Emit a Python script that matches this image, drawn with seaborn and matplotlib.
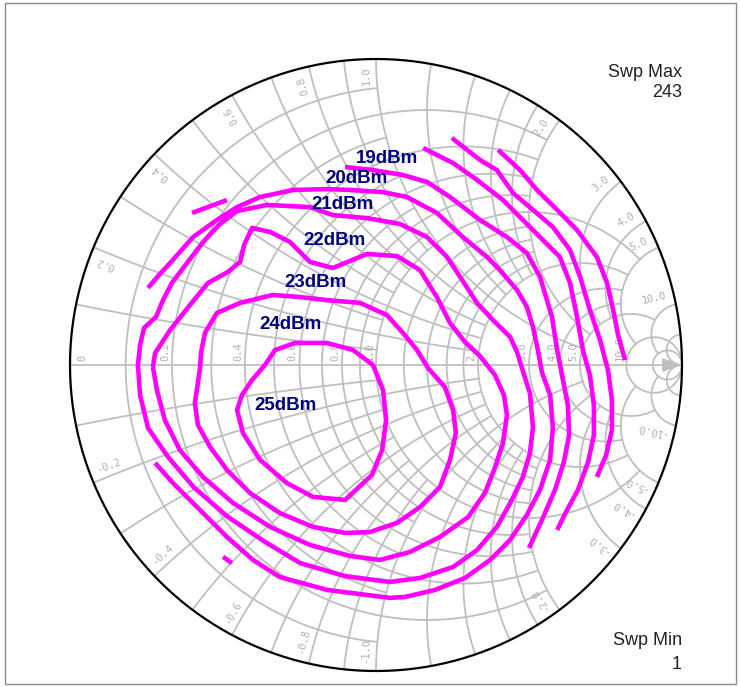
import numpy as np
import pandas as pd
import matplotlib
matplotlib.use("Agg")
import matplotlib.pyplot as plt
from matplotlib.patches import Rectangle
import seaborn as sns

# --- load-pull contours, reflection coefficient (re, im) ---
c25_re = [-0.363, -0.330, -0.265, -0.160, -0.075, -0.010, 0.023, 0.033, 0.020, -0.013,
          -0.101, -0.206, -0.291, -0.379, -0.435, -0.454, -0.438, -0.405]
c25_im = [0.000, 0.049, 0.072, 0.072, 0.049, 0.000, -0.082, -0.180, -0.278, -0.359,
          -0.441, -0.431, -0.386, -0.310, -0.222, -0.147, -0.098, -0.049]

c24_re = [-0.575, -0.572, -0.559, -0.520, -0.444, -0.337, -0.248, -0.160, -0.052, 0.036,
          0.088, 0.134, 0.170, 0.225, 0.252, 0.261, 0.242, 0.209, 0.144, 0.069,
          -0.020, -0.101, -0.206, -0.314, -0.412, -0.487, -0.542, -0.582, -0.592, -0.582]
c24_im = [-0.010, 0.039, 0.105, 0.170, 0.203, 0.229, 0.222, 0.212, 0.203, 0.163,
          0.105, 0.049, -0.010, -0.072, -0.147, -0.222, -0.310, -0.399, -0.464, -0.516,
          -0.546, -0.549, -0.529, -0.484, -0.418, -0.343, -0.268, -0.196, -0.124, -0.059]

c23_re = [-0.729, -0.722, -0.673, -0.608, -0.549, -0.484, -0.444, -0.431, -0.405, -0.346,
          -0.281, -0.216, -0.141, -0.029, 0.069, 0.144, 0.199, 0.242, 0.291, 0.340,
          0.389, 0.418, 0.428, 0.415, 0.386, 0.356, 0.301, 0.209, 0.111, 0.013,
          -0.085, -0.216, -0.346, -0.467, -0.565, -0.641, -0.690, -0.716]
c23_im = [-0.007, 0.039, 0.114, 0.196, 0.268, 0.304, 0.337, 0.392, 0.448, 0.435,
          0.402, 0.337, 0.317, 0.363, 0.356, 0.310, 0.222, 0.137, 0.075, 0.029,
          -0.033, -0.098, -0.163, -0.255, -0.343, -0.418, -0.497, -0.562, -0.611, -0.637,
          -0.624, -0.588, -0.529, -0.451, -0.366, -0.278, -0.180, -0.082]

c22_re = [-0.778, -0.771, -0.758, -0.719, -0.696, -0.667, -0.618, -0.565, -0.510, -0.454,
          -0.356, -0.216, -0.141, -0.029, 0.078, 0.167, 0.232, 0.275, 0.330, 0.382,
          0.438, 0.461, 0.477, 0.503, 0.513, 0.503, 0.480, 0.444, 0.395, 0.330,
          0.252, 0.144, 0.046, -0.101, -0.248, -0.363, -0.487, -0.595, -0.680, -0.745, -0.771]
c22_im = [0.000, 0.065, 0.121, 0.157, 0.212, 0.268, 0.333, 0.402, 0.461, 0.503,
          0.523, 0.516, 0.490, 0.480, 0.461, 0.418, 0.353, 0.288, 0.203, 0.147,
          0.092, 0.042, -0.010, -0.092, -0.203, -0.288, -0.366, -0.441, -0.529, -0.605,
          -0.660, -0.696, -0.709, -0.690, -0.647, -0.578, -0.494, -0.400, -0.300, -0.206, -0.098]

c21_re = [-0.745, -0.712, -0.673, -0.598, -0.520, -0.454, -0.379, -0.271, -0.160, -0.085,
          0.023, 0.101, 0.199, 0.284, 0.363, 0.405, 0.461, 0.493, 0.513, 0.529,
          0.542, 0.569, 0.578, 0.569, 0.536, 0.493, 0.438, 0.373, 0.291, 0.193,
          0.095, 0.046, -0.160, -0.314, -0.402, -0.487, -0.575, -0.663, -0.722]
c21_im = [0.252, 0.291, 0.333, 0.418, 0.474, 0.516, 0.549, 0.572, 0.575, 0.572,
          0.565, 0.549, 0.497, 0.418, 0.353, 0.310, 0.245, 0.190, 0.124, 0.049,
          -0.023, -0.098, -0.203, -0.310, -0.408, -0.490, -0.572, -0.637, -0.696, -0.735,
          -0.758, -0.761, -0.735, -0.693, -0.637, -0.562, -0.474, -0.386, -0.320]

c20_re = [-0.101, -0.010, 0.088, 0.167, 0.242, 0.340, 0.428, 0.493, 0.536, 0.575,
          0.592, 0.608, 0.627, 0.631, 0.614, 0.585, 0.542, 0.500]
c20_im = [0.647, 0.637, 0.621, 0.598, 0.549, 0.474, 0.418, 0.366, 0.288, 0.157,
          0.049, -0.033, -0.131, -0.229, -0.317, -0.408, -0.507, -0.598]

c19_re = [0.154, 0.252, 0.330, 0.415, 0.480, 0.546, 0.601, 0.634, 0.657, 0.676,
          0.699, 0.712, 0.712, 0.693, 0.660, 0.621, 0.592]
c19_im = [0.709, 0.660, 0.605, 0.539, 0.474, 0.408, 0.353, 0.268, 0.157, 0.049,
          -0.033, -0.131, -0.229, -0.317, -0.408, -0.480, -0.539]

c18_re = [0.248, 0.340, 0.395, 0.448, 0.513, 0.578, 0.634, 0.667, 0.699, 0.732,
          0.758, 0.771, 0.771, 0.752, 0.722]
c18_im = [0.742, 0.670, 0.637, 0.562, 0.507, 0.451, 0.376, 0.288, 0.180, 0.082,
          -0.016, -0.114, -0.212, -0.294, -0.366]

c17_re = [0.399, 0.471, 0.526, 0.592, 0.657, 0.722, 0.755, 0.775, 0.791, 0.814]
c17_im = [0.703, 0.637, 0.572, 0.507, 0.441, 0.353, 0.268, 0.180, 0.098, 0.016]

frag1_re = [-0.601, -0.487]
frag1_im = [0.497, 0.539]
frag2_re = [-0.500, -0.471]
frag2_im = [-0.627, -0.647]

# contour labels and where they sit
label_text = ["19dBm", "20dBm", "21dBm", "22dBm", "23dBm", "24dBm", "25dBm"]
label_re = [0.036, -0.065, -0.111, -0.134, -0.199, -0.281, -0.297]
label_im = [0.676, 0.611, 0.526, 0.408, 0.268, 0.131, -0.131]

# Smith chart grid: resistance circles / reactance arcs and how far each runs
r_circles = [0.1, 0.2, 0.3, 0.4, 0.5, 0.6, 0.7, 0.8, 0.9, 1.0,
             1.2, 1.4, 1.6, 1.8, 2.0, 3.0, 4.0, 5.0, 10.0, 20.0]
r_limits = [1, 2, 1, 2, 1, 2, 1, 2, 1, 5,
            2, 2, 2, 2, 5, 5, 5, 10, np.inf, np.inf]
x_arcs = [0.1, 0.2, 0.3, 0.4, 0.5, 0.6, 0.7, 0.8, 0.9, 1.0,
          1.2, 1.4, 1.6, 1.8, 2.0, 3.0, 4.0, 5.0, 10.0, 20.0]
x_limits = [1, 2, 1, 2, 1, 2, 1, 2, 1, 5,
            2, 2, 2, 2, 5, 5, 5, 10, 20, np.inf]
grid_labels = [0.2, 0.4, 0.6, 0.8, 1.0, 2.0, 3.0, 4.0, 5.0, 10.0]

# pixel geometry of the chart inside the 740x687 image
W, H = 740, 687
CX, CY, RAD = 376, 365, 306
GRID = "#bfbfbf"
TICK = "#b0b0b0"
MAGENTA = "#ff00ff"


def gamma(z):
    return (z - 1) / (z + 1)


def closed(a):
    return list(a) + [a[0]]


sns.set_theme(style="white")
plt.rcParams["font.family"] = ["Liberation Sans", "DejaVu Sans"]

fig = plt.figure(figsize=(W / 100, H / 100), dpi=100)
ax = fig.add_axes([0, 0, 1, 1])

# --- grid ---
for r, xm in zip(r_circles, r_limits):
    if np.isinf(xm):
        t = np.linspace(0, 2 * np.pi, 400)
        g = r / (1 + r) + np.exp(1j * t) / (1 + r)
    else:
        xs = np.tan(np.linspace(-np.arctan(xm), np.arctan(xm), 400))
        g = gamma(r + 1j * xs)
    ax.plot(g.real, g.imag, color=GRID, lw=1.3, zorder=1)

for x, rm in zip(x_arcs, x_limits):
    if np.isinf(rm):
        rs = np.append(np.tan(np.linspace(0, np.pi / 2 * 0.999, 400)), 1e7)
    else:
        rs = np.tan(np.linspace(0, np.arctan(rm), 400))
    for s in (1, -1):
        g = gamma(rs + 1j * s * x)
        ax.plot(g.real, g.imag, color=GRID, lw=1.3, zorder=1)

ax.annotate("", xy=(0.995, 0), xytext=(-1, 0),
            arrowprops=dict(arrowstyle="-|>,head_length=0.9,head_width=0.35",
                            color=GRID, lw=1.3, shrinkA=0, shrinkB=0,
                            mutation_scale=12), zorder=1)

t = np.linspace(0, 2 * np.pi, 600)
ax.plot(np.cos(t), np.sin(t), color="black", lw=1.6, zorder=3)

# --- grid labels ---
for r in [0.0] + grid_labels:
    gx = (r - 1) / (r + 1)
    txt = "0" if r == 0 else f"{r:.1f}"
    ax.text(gx + (0.04 if r == 0 else -0.022), 0.012, txt, rotation=90,
            ha="center", va="bottom", fontsize=7.5, color=TICK,
            family="DejaVu Sans Mono", zorder=2)

for x in grid_labels:
    for s in (1, -1):
        th = np.angle(gamma(1j * s * x)) + s * np.deg2rad(2.0)
        p = 0.975 * np.exp(1j * th)
        rot = np.degrees(th) if s > 0 else np.degrees(th) + 180
        ax.text(p.real, p.imag, f"{s * x:.1f}", rotation=rot, rotation_mode="anchor",
                ha="right" if s > 0 else "left", va="center", fontsize=7.5,
                color=TICK, family="DejaVu Sans Mono", zorder=2)

# --- contours ---
parts = [
    ("25", closed(c25_re), closed(c25_im)),
    ("24", closed(c24_re), closed(c24_im)),
    ("23", closed(c23_re), closed(c23_im)),
    ("22", closed(c22_re), closed(c22_im)),
    ("21", c21_re, c21_im),
    ("20", c20_re, c20_im),
    ("19", c19_re, c19_im),
    ("18", c18_re, c18_im),
    ("17", c17_re, c17_im),
    ("f1", frag1_re, frag1_im),
    ("f2", frag2_re, frag2_im),
]
df = pd.concat([pd.DataFrame({"re": a, "im": b, "contour": n}) for n, a, b in parts],
               ignore_index=True)
sns.lineplot(data=df, x="re", y="im", units="contour", estimator=None, sort=False,
             color=MAGENTA, lw=3.3, ax=ax, zorder=4,
             solid_capstyle="butt", solid_joinstyle="round")
ax.set_xlim(-CX / RAD, (W - CX) / RAD)
ax.set_ylim(-(H - CY) / RAD, CY / RAD)
ax.axis("off")

for txt, lx, ly in zip(label_text, label_re, label_im):
    ax.text(lx, ly, txt, ha="center", va="center", fontsize=13.5,
            fontweight="bold", color="#000080", zorder=5)

# --- sweep annotations ---
ax.text(1.0, 0.941, "Swp Max", ha="right", va="baseline", fontsize=13, color="#222222")
ax.text(1.0, 0.876, "243", ha="right", va="baseline", fontsize=13, color="#222222")
ax.text(1.0, -0.915, "Swp Min", ha="right", va="baseline", fontsize=13, color="#222222")
ax.text(1.0, -0.993, "1", ha="right", va="baseline", fontsize=13, color="#222222")

fig.add_artist(Rectangle((5 / W, 3 / H), 731 / W, 681 / H, transform=fig.transFigure,
                         fill=False, ec="#8a8a8a", lw=1.0))

fig.savefig("out.png", dpi=100)
plt.close(fig)
